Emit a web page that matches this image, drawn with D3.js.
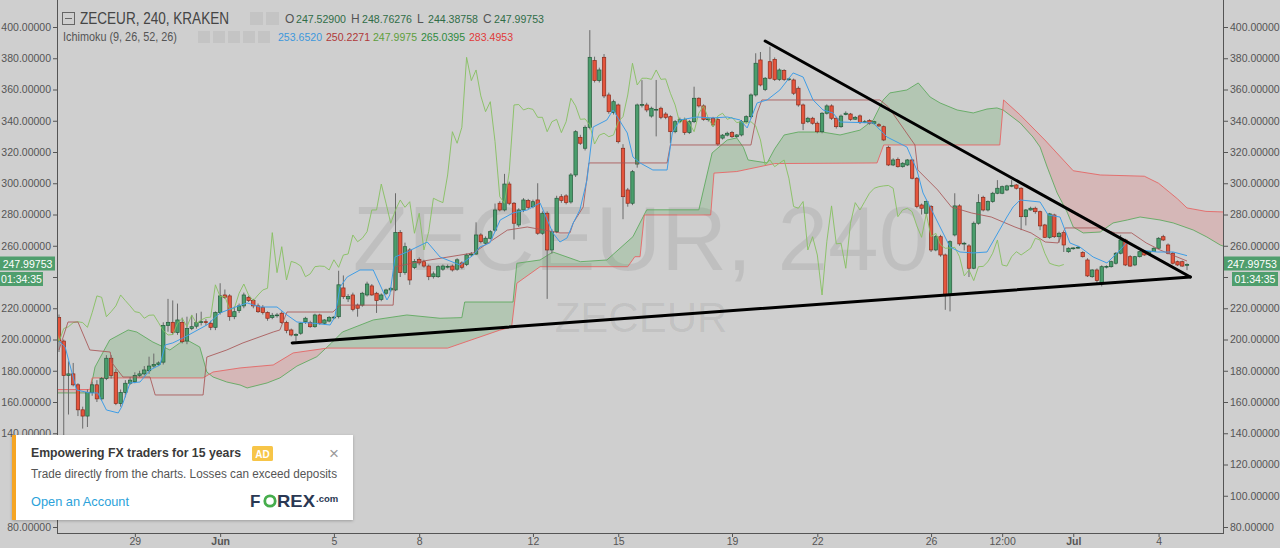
<!DOCTYPE html>
<html><head><meta charset="utf-8">
<script src="https://cdn.jsdelivr.net/npm/d3@7"></script>
<style>
body{margin:0;background:#cfcfcf;overflow:hidden}
svg{display:block}
text{font-family:"Liberation Sans",Arial,sans-serif}
</style></head>
<body><svg id="c" width="1280" height="548"></svg>
<script>
// ---------------- DATA ----------------
const open = [
214,199,177,178,171,155,151,166,171,162,
175,188,179,159,166,172,173,177,178,180,
183,184,185.5,209,211,204.5,211,199,207,208.5,
210.8,211.4,210.4,207.8,217.2,228.5,227.9,214.6,218.5,221.5,
227,224.9,221.5,220.6,217.2,214,215.5,216.8,210.8,206.1,
202.9,204,211.4,210.8,208.2,215.7,210.4,211.8,214,214.6,
233,226,228.5,222,222,228.5,234.3,229.6,225.7,229.6,
231.7,231.7,268.4,242.8,257.3,246,251.3,249.8,247,240.2,
240.2,245,246.6,247,245,249,248,254.1,254.7,266.9,
261.6,264.8,270,287.2,282.9,299.5,287.2,273.3,282.9,288.9,
285,289.3,268,280.8,257.3,269,291.4,291.9,288,305.3,
329.4,322.4,335.8,378.5,365.7,380.6,356.5,345.2,350.1,322.4,
295.7,287.2,312.3,350,350.1,343,347,348,344.3,342.6,
333,339.4,340.9,332.4,339.4,354.4,349.5,340.9,341.6,340.9,
328.9,330.8,332.4,329.8,330.9,339.4,342.6,356.5,378.9,360.1,
377.8,379.3,366.5,372.1,366.5,366.1,360.8,350.1,339.4,341.6,
338.4,333,344.8,349.5,341.6,336.2,344,344.3,341,343.1,
339,340.1,338.4,337.5,336.2,323,311.7,315.3,310.6,311.7,
314.9,303.2,286.1,280.8,285.1,257.3,265.8,254.1,228.5,266.9,
285.5,261.2,259.9,245.6,274.4,291,282.9,288.3,293.6,293.6,
295.7,298.3,298.9,296.8,278.6,282.9,284,281.8,273.3,265.4,
279.7,265.8,268.4,256.2,258.4,258.6,255.6,250.9,240.2,244.5,
235.6,246.6,246.6,248.8,255.2,263.7,253,247.7,253,256.2,
255.2,256.2,258.4,265.8,260.5,255.2,249.8,249.8,247.529];
const high = [
216,200,186,185,172,157,168,173,174,176,
190,190,181,168,174,176,179,180,183,189,
191,186,211,226,225,223,214,214.6,215.7,216.8,
217.8,213,212,218,236,232,229,221,223,230,
228,226,223,222,218,217,217,218,212,207,
204,211,214.5,212,216.5,216.5,213,215,215,244,
241,229,230,223,230.5,237,235.5,230.5,229.5,232.5,
233.5,293.6,270,262,258.5,251.5,252.5,251,248,243.5,
247.5,248,248,248,252,250,255,256,275,268,
266,270,287,288.5,306,301,288,284,290.5,290,
289.5,300,282,282,270.5,292,293,293,306.5,334,
331,337,398,381,374,382.7,358,353.5,351,325,
297,308.5,351,366,351.5,349,366.1,349,345.5,343.5,
340.5,342,342,340.5,361.8,355,350.5,342,342.5,342,
331.5,333,333.5,331.5,340.5,343.5,357.5,383.2,384,368,
387.4,380.5,373.5,373,367.5,367,362,351,342.5,342.5,
339.5,345.5,350.5,350.5,342.5,344,346,345,343,344,
340.5,341,340,338.5,337,324,316,316.5,313.5,315.5,
315.5,304,287,289,286,267,267,255,263.5,293.6,
286.5,262.5,261,275.5,293,292,289,294.5,302,298.5,
299,302,299.5,297.5,283.5,285,285,282.5,274,281,
280.5,269,269,259,259,260,256.5,252,245,245.5,
247.5,247.5,250.5,256,267,264.5,254,253.5,256.5,257,
256.5,259,265.5,267,261.5,256,250.5,250.5,248.76276];
const low = [
192,137,152,170,151,143,144,164,160,161,
174,175,158,157,163,171,172,176,177,178,
182,183,184,205,203,203,197.5,197,206,207,
209,209,206,206,216,226,212,213,217,220,
224,220,217,216,212,213,214,210,204,202,
199,203,210,207.5,207.5,209.5,209.5,211,213,213.5,
226,224,218,214.6,221,227.5,228,217,224.5,228.5,
230.5,231,240,241.5,235,245,247.5,246,238,239,
239.5,244,245.5,243.5,244,245,247,253,254,261.5,
260.5,264,269,282,282,286,264,272,281.5,283.5,
284,267,267,226,255,268,287.5,286.5,287,304,
324.5,321,334.5,364.5,364.5,354.5,344.5,344,325.5,277,
285,286,310,348.5,345.5,342,330,341,341,325.6,
332,339,331,331.5,338.5,348.5,340,339.5,336,324,
328,330,329,329,330,338.5,341.5,355.5,362,359,
366.5,365.5,365.5,365.5,365.5,356.5,349,334,338.5,337.5,
332,332,344,340.5,335,335.5,343.5,340,340.5,338,
338.5,337.5,337.5,336,327,311,311,310,310,311,
302.5,284,280,280,256,256.5,253,219,218,266,
260,257,240,245,273.5,282,282,287.5,293,293,
295,297.5,296,270,273,282.5,280.5,270,265,264.5,
265,262,256,255.5,257.5,258,252.5,240,239.5,235,
234,245.5,246,248,254.5,247,246.5,247,252.5,253.5,
254.5,256,258,263,254.5,248,247,246.5,244.38758];
const close = [
199,177,178,171,155,151,166,171,162,175,
188,177,159,166,172,174,177,178,180.5,183,
184,185,209,211,204.5,212.5,198.6,207,208.2,210.8,
211.4,210.8,207.8,217.2,227.9,227,214.6,217.8,221.5,228.5,
224.9,221.5,217.8,217.2,213.6,215.5,215.7,210.8,205.7,202.9,
203.2,210.4,213.6,208.2,215.7,210.4,212.5,214,214.3,235,
227.4,227.5,219.3,220,229.6,235.5,228.5,224.9,228.5,231.7,
232.8,268.4,242.8,259.4,238.1,250,249,247,240.2,242,
246.6,247,246.8,244.5,251,246.2,254.1,254.7,266.9,262.6,
264.8,269,282.9,282.9,299.5,287.2,274.4,282.9,289.3,284.6,
288.2,268,280.8,257.3,269,290.4,288.9,287.6,305.3,333,
325.6,335.8,380.6,365.7,372.5,355.9,345.8,352.2,326.6,291.4,
287.2,307.4,350.1,350.4,346.9,348,347.3,342.2,342.2,333,
339.4,340.9,332.4,339.4,354.4,349.5,340.9,341.2,337.3,325.1,
330.8,332,329.8,330.9,339.4,342.6,356.5,376.8,362.9,367.2,
367.2,366.5,372.5,366.5,366.8,357.6,350.1,338.4,341.6,338.4,
333,344.8,349.5,341.6,336.2,343,344.8,340.9,342.2,338.8,
339.4,338.4,339.4,336.7,327.7,311.7,314.9,310.6,312.8,314.9,
303.2,285.1,284,288.3,257.3,265.8,254.1,228.5,262.6,285.5,
261.2,261.6,245.6,274.4,287.6,282.9,288.3,293.6,296.8,297.8,
298.3,298.6,296.8,278.6,282.9,284,281.8,272.7,265.4,280.4,
265.8,268,260.5,258.4,258.6,259,253,240.7,244.5,237.7,
246.6,246.8,249.8,255.2,263.7,247.7,247,253,256.2,254.1,
256.2,258.4,264.8,263.7,255.2,248.8,247.7,247,247.99753];

// Ichimoku lines: [bar index, price]
const tenkan = [[0,199],[1.3,195.2],[3.7,167.7],[6.5,165.8],[8.2,165.8],[10,154.9],[12.5,153],[13.2,156.8],[15,172.2],[17.1,172.8],[19.2,180.5],[21.3,183.7],[22.4,196.5],[24,197.8],[26.2,201],[31.2,209.3],[34,217],[36.7,220.2],[39.7,223.4],[42.4,220.8],[46,220.8],[48.1,215.7],[50.2,211.2],[53,210.6],[57.2,209.3],[58.2,214.4],[59.3,233.6],[60.8,240],[63.5,244.5],[66.3,244.5],[69.2,225.3],[69.8,228.5],[70.9,252.8],[73.4,256],[77.7,262.4],[80.4,252.8],[84.6,247.7],[87.4,254],[88.8,259.2],[90.9,261.8],[93.1,276.5],[95.8,281],[98.8,282.9],[101.5,287.4],[104.2,268.2],[105.7,262.4],[107.2,265],[108.5,274.6],[109.9,282.9],[111.4,302],[112.7,336],[115.6,340.5],[116.9,346.9],[119.9,332.2],[121.1,316.8],[122.6,313],[125.3,308.5],[128.3,308.5],[129.4,332.2],[131,340.5],[134.6,342.4],[138,341.8],[141,342.4],[143.7,340.5],[145.2,335.4],[147.3,351.4],[149.4,353.3],[152.1,359.7],[154.9,370.6],[157,368],[159.1,353.3],[161.2,346.9],[163.3,345],[164.8,339.2],[171.8,338.6],[174.7,329.6],[178.9,323.2],[181,308.5],[182.3,293.8],[183.8,284.8],[185.9,272],[188,259.2],[190.1,256],[192.9,255.4],[195.8,256],[200,278.4],[201.3,284.8],[202.8,289.3],[207,288],[208.7,279.7],[211.2,278.4],[213.3,261.8],[215.4,259.2],[218.2,252.8],[221.1,249],[223.3,255.4],[225.4,262.4],[228.1,257.3],[231.7,256],[235.1,256],[238,253.652]];
const kijun = [[0,193.3],[1.9,211.2],[4,211.2],[6.5,193.3],[10.8,192],[11.2,185],[13.5,176],[19.2,176],[20.3,164.5],[30.4,164.5],[31.2,188.8],[35.4,193.3],[38.8,197.8],[45.2,204.8],[46.6,206.1],[48.1,217.6],[57.8,217.6],[59.3,222],[70.5,222],[71,246.6],[76,249.8],[87.4,255.4],[94.6,270],[98.8,272],[105.7,268.2],[107.8,268.2],[108.5,274.6],[110.6,284.8],[111.8,313],[128.3,313],[129,324.5],[146,324.5],[147.3,345],[148.3,353.3],[173.2,353.3],[175,348.8],[180.6,324.5],[181.2,308.5],[185.4,295.7],[188.3,284.8],[192.5,281],[196.7,278.4],[201.7,272],[205.1,268.2],[208.1,262.4],[210.8,261.8],[212.3,271.4],[219.4,271.4],[222.9,268.2],[226.3,268.2],[229.4,261.8],[232.3,257.3],[238,250.2271]];
const senkouA = [[-1,165.8],[6.5,165.8],[7.6,182.4],[10.7,199.7],[14.6,206.1],[16.4,204.8],[19.8,198.4],[23.4,193.3],[25.5,197.8],[27,199.7],[29.7,195.2],[31.2,179.2],[32.5,176],[35.4,172.8],[38.2,170.9],[39.7,169],[43.9,172.2],[46.6,175.4],[50.2,183],[54.4,189],[57.5,197.8],[59.8,204.8],[66.3,212.5],[73.4,215.7],[80.4,213.6],[85,214],[85.6,224],[95.8,224],[96.6,248.8],[101.5,250.9],[104.2,256],[110,249.8],[115.6,250.9],[121.1,265.8],[124,283],[135,283],[137.8,319.4],[141,327.7],[143,329],[144.4,323],[145.4,314.9],[149.4,313],[151,322],[153,330.9],[156,332.8],[161,332.8],[164.8,330.9],[169,334],[171.8,340.5],[173.9,353.3],[175.3,357.8],[178.9,359.7],[181.3,364.2],[183.8,355.2],[185.9,351.4],[189.5,346.9],[192.9,345],[195.8,347.5],[197.9,348.2],[199.2,346.9],[202.8,338.6],[205.5,329.6],[207,323.2],[208.5,310.4],[210.6,293.8],[212.7,281.6],[214,272],[216.1,268.2],[219.7,268.8],[222.4,274.6],[225.4,276.5],[228.1,278.4],[232.3,276.5],[235.1,274.6],[239.3,270.1],[242.2,265.6],[245,260.5],[250,255]];
const senkouB = [[-1,168],[6.5,168],[7,175.4],[30.4,175.4],[32.5,179.2],[38.2,181.8],[45.2,183.7],[49.4,191.4],[56.6,194.5],[82,194.5],[93,206],[95.5,208],[96.6,236],[101.5,246.6],[120,246.6],[121.5,253],[122.6,253],[123.5,279.7],[137.5,279.7],[138.2,306.5],[143,307.5],[151,312.6],[172.6,313],[174,324.5],[198.5,324.5],[199.3,353.3],[202.8,343.7],[208,327.7],[214,308],[219.7,305.3],[229,304.5],[232,300],[236,290],[238,284.2],[242,282],[246,281.6],[250,281]];
const chikouShift = 26;

// drawn trend lines: [[bar, price],[bar, price]]
const trendLines = [[[149,391],[238.7,240]],[[49.2,197.8],[238.7,240]]];

const tickIndex  = [16,34,58,76,100,118,142,160,184,199,214,232];
const tickLabels = ["29","Jun","5","8","12","15","19","22","26","12:00","Jul","4"];
const boldTicks  = ["Jun","Jul"];
const priceTicks = [80,100,120,140,160,180,200,220,240,260,280,300,320,340,360,380,400];
const coveredRight = [240];          // hidden behind the price / countdown tags
const coveredLeft  = [100,120,240];  // hidden behind the tags and the ad panel

const symbolTitle = "ZECEUR, 240, KRAKEN";
const watermark = "ZECEUR, 240";
const watermarkSmall = "ZECEUR";
const ohlcLabels = ["O","H","L","C"];
const indicatorTitle = "Ichimoku (9, 26, 52, 26)";
const legendValues = [253.6520, 250.2271, 247.9975, 265.0395, 283.4953];
const countdown = "01:34:35";
const adTitle = "Empowering FX traders for 15 years";
const adText = "Trade directly from the charts. Losses can exceed deposits";
const adLink = "Open an Account";

// ---------------- DRAW ----------------
const svg = d3.select("#c");
const PL=57, PR=1224, PB=533;
const x = d3.scaleLinear().domain([0, 238]).range([59, 1187]);
const y = d3.scaleLinear().domain([80, 400]).range([527, 27]);
const N = close.length;

svg.append("rect").attr("width",1280).attr("height",548).attr("fill","#cfcfcf");
const defs = svg.append("defs");
defs.append("clipPath").attr("id","plotclip").append("rect")
  .attr("x",PL+0.5).attr("y",0).attr("width",PR-PL-1).attr("height",PB);

const toPts = arr => arr.map(d=>[x(d[0]), y(d[1])]);
const aPts = toPts(senkouA), bPts = toPts(senkouB);
const poly = pts => d3.line()(pts) + "Z";
const xmin = x(-1), xmax = x(250);
defs.append("clipPath").attr("id","aboveB").append("path")
  .attr("d", poly([...bPts, [xmax,-50],[xmin,-50]]));
defs.append("clipPath").attr("id","belowB").append("path")
  .attr("d", poly([...bPts, [xmax,700],[xmin,700]]));
const betweenPath = poly([...aPts, ...bPts.slice().reverse()]);

const plot = svg.append("g").attr("clip-path","url(#plotclip)");

// watermark
plot.append("text").attr("x",641).attr("y",270).attr("text-anchor","middle")
  .attr("font-size",91).attr("fill","#000").attr("fill-opacity",0.075).text(watermark);
plot.append("text").attr("x",641).attr("y",332).attr("text-anchor","middle")
  .attr("font-size",42).attr("fill","#000").attr("fill-opacity",0.075).text(watermarkSmall);

// cloud
const cloud = plot.append("g");
cloud.append("g").attr("clip-path","url(#aboveB)").append("path")
  .attr("d",betweenPath).attr("fill","rgba(70,165,70,0.2)");
cloud.append("g").attr("clip-path","url(#belowB)").append("path")
  .attr("d",betweenPath).attr("fill","rgba(240,90,90,0.2)");

const line = d3.line().x(d=>x(d[0])).y(d=>y(d[1]));
plot.append("path").attr("d",line(senkouA)).attr("fill","none").attr("stroke","#5aa85a").attr("stroke-width",1).attr("stroke-opacity",0.85);
plot.append("path").attr("d",line(senkouB)).attr("fill","none").attr("stroke","#e86060").attr("stroke-width",1).attr("stroke-opacity",0.85);

// candles
const cg = plot.append("g");
const idx = d3.range(N);
cg.selectAll("line.w").data(idx).join("line")
  .attr("x1",i=>x(i)).attr("x2",i=>x(i))
  .attr("y1",i=>y(high[i])).attr("y2",i=>y(low[i]))
  .attr("stroke","#6a6a6a").attr("stroke-width",1);
cg.selectAll("rect.b").data(idx).join("rect")
  .attr("x",i=>x(i)-1.7).attr("width",3.4)
  .attr("y",i=>y(Math.max(open[i],close[i])))
  .attr("height",i=>Math.max(0.8, Math.abs(y(open[i])-y(close[i]))))
  .attr("fill",i=>close[i]>=open[i]?"#4a9d6c":"#e5553d")
  .attr("stroke",i=>close[i]>=open[i]?"#245c3b":"#8a2b1c")
  .attr("stroke-width",0.7);

// lagging span, kijun, tenkan
const chik = d3.line().x((d,i)=>x(i-chikouShift)).y(d=>y(d));
plot.append("path").attr("d",chik(close)).attr("fill","none").attr("stroke","#86c060").attr("stroke-width",1).attr("stroke-opacity",0.9);
plot.append("path").attr("d",line(kijun)).attr("fill","none").attr("stroke","#a85656").attr("stroke-width",1).attr("stroke-opacity",0.85);
plot.append("path").attr("d",line(tenkan)).attr("fill","none").attr("stroke","#3f9de6").attr("stroke-width",1);

// trend lines
trendLines.forEach(t=>{
  plot.append("path").attr("d",line(t)).attr("stroke","#000").attr("stroke-width",3).attr("fill","none").attr("stroke-linecap","round");
});

// axes
const axCol = "#555";
const fmt = d3.format(".5f");
const la = svg.append("g").attr("transform",`translate(${PL},0)`)
  .call(d3.axisLeft(y).tickValues(priceTicks).tickFormat(fmt).tickSize(4).tickPadding(2));
const ra = svg.append("g").attr("transform",`translate(${PR},0)`)
  .call(d3.axisRight(y).tickValues(priceTicks).tickFormat(fmt).tickSize(4).tickPadding(2));
const ba = svg.append("g").attr("transform",`translate(0,${PB})`)
  .call(d3.axisBottom(x).tickValues(tickIndex).tickFormat((d,i)=>tickLabels[i]).tickSize(4).tickPadding(1));
[la,ra,ba].forEach(a=>{
  a.select(".domain").remove();
  a.selectAll("line").attr("stroke",axCol);
  a.selectAll("text").attr("fill",axCol).attr("font-size",10.5).attr("font-family","Liberation Sans, Arial, sans-serif");
});
la.selectAll(".tick text").filter(d=>coveredLeft.includes(d)).remove();
ra.selectAll(".tick text").filter(d=>coveredRight.includes(d)).remove();
ba.selectAll("text").attr("font-weight",d=>boldTicks.includes(tickLabels[tickIndex.indexOf(d)])?"bold":"normal");
svg.append("line").attr("x1",PL+0.5).attr("x2",PL+0.5).attr("y1",0).attr("y2",PB+0.5).attr("stroke",axCol);
svg.append("line").attr("x1",PR-0.5).attr("x2",PR-0.5).attr("y1",0).attr("y2",PB+0.5).attr("stroke",axCol);
svg.append("line").attr("x1",PL).attr("x2",PR).attr("y1",PB+0.5).attr("y2",PB+0.5).attr("stroke",axCol);

// price tags
const last = close[N-1];
const tagCol = "#4f9e6d";
const yl = y(last);
function tag(x0,w,yc,txt){
  svg.append("rect").attr("x",x0).attr("y",yc-7).attr("width",w).attr("height",14).attr("fill",tagCol);
  svg.append("text").attr("x",x0+w/2).attr("y",yc+4).attr("text-anchor","middle").attr("fill","#fff").attr("font-size",10.5).text(txt);
}
tag(PR,56,yl-1,fmt(last));
tag(PR+8,46,yl+14.5,countdown);
tag(0,55,yl-1,fmt(last));
tag(0,43,yl+14.5,countdown);

// header
const hd = svg.append("g");
hd.append("rect").attr("x",62.5).attr("y",12.5).attr("width",12).attr("height",12).attr("fill","none").attr("stroke","#666");
hd.append("line").attr("x1",65).attr("x2",72).attr("y1",18.5).attr("y2",18.5).attr("stroke","#666");
hd.append("text").attr("x",80).attr("y",24).attr("font-size",16).attr("fill","#454545")
  .attr("textLength",149).attr("lengthAdjust","spacingAndGlyphs").text(symbolTitle);
[250,266].forEach(px=>hd.append("rect").attr("x",px).attr("y",12).attr("width",13).attr("height",13).attr("fill","#c4c4c4"));
const ohlc = [open[N-1],high[N-1],low[N-1],close[N-1]];
ohlcLabels.forEach((lab,k)=>{
  const x0 = 285 + k*66;
  hd.append("text").attr("x",x0).attr("y",23).attr("font-size",12).attr("fill","#555").text(lab);
  hd.append("text").attr("x",x0+11).attr("y",23).attr("font-size",11).attr("fill","#2f6d47")
    .attr("textLength",50).attr("lengthAdjust","spacingAndGlyphs").text(fmt(ohlc[k]));
});
hd.append("text").attr("x",63).attr("y",41).attr("font-size",12).attr("fill","#555")
  .attr("textLength",114).attr("lengthAdjust","spacingAndGlyphs").text(indicatorTitle);
[198,213,228,243,258].forEach(px=>hd.append("rect").attr("x",px).attr("y",31).attr("width",12).attr("height",12).attr("fill","#c4c4c4"));
const legCols = ["#3d98dc","#b03838","#5e9e3c","#2e8a40","#e03a3a"];
const legX = [278,326,373,421,469];
legendValues.forEach((v,k)=>{
  hd.append("text").attr("x",legX[k]).attr("y",41).attr("font-size",10.5).attr("fill",legCols[k])
    .attr("textLength",44).attr("lengthAdjust","spacingAndGlyphs").text(d3.format(".4f")(v));
});

// ad box
const ad = svg.append("g");
const f = defs.append("filter").attr("id","sh").attr("x","-10%").attr("y","-10%").attr("width","120%").attr("height","130%");
f.append("feDropShadow").attr("dx",0).attr("dy",1).attr("stdDeviation",1.5).attr("flood-color","#000").attr("flood-opacity",0.25);
ad.append("rect").attr("x",12).attr("y",435).attr("width",341).attr("height",85).attr("fill","#fff").attr("filter","url(#sh)");
ad.append("rect").attr("x",12).attr("y",435).attr("width",4).attr("height",85).attr("fill","#f5a524");
ad.append("text").attr("x",31).attr("y",457).attr("font-size",13).attr("font-weight","bold").attr("fill","#3a3a3a")
  .attr("font-family","Lato, 'Liberation Sans', sans-serif")
  .attr("textLength",210).attr("lengthAdjust","spacingAndGlyphs").text(adTitle);
ad.append("rect").attr("x",252).attr("y",446).attr("width",21).attr("height",15).attr("rx",1.5).attr("fill","#f7c548");
ad.append("text").attr("x",262.5).attr("y",457.5).attr("text-anchor","middle").attr("font-size",10).attr("font-weight","bold").attr("fill","#fff").text("AD");
ad.append("text").attr("x",334).attr("y",459).attr("text-anchor","middle").attr("font-size",17).attr("fill","#9a9a9a").text("×");
ad.append("text").attr("x",31).attr("y",478).attr("font-size",12).attr("fill","#555")
  .attr("font-family","Lato, 'Liberation Sans', sans-serif")
  .attr("textLength",306).attr("lengthAdjust","spacingAndGlyphs").text(adText);
ad.append("text").attr("x",31).attr("y",506).attr("font-size",13).attr("fill","#2ba2da")
  .attr("font-family","Lato, 'Liberation Sans', sans-serif")
  .attr("textLength",98).attr("lengthAdjust","spacingAndGlyphs").text(adLink);
ad.append("text").attr("x",250).attr("y",507).attr("font-size",17).attr("font-weight","bold").attr("fill","#2a3853").text("F");
ad.append("circle").attr("cx",270).attr("cy",501).attr("r",5.2).attr("fill","none").attr("stroke","#46ad4c").attr("stroke-width",2.8);
ad.append("text").attr("x",277).attr("y",507).attr("font-size",17).attr("font-weight","bold").attr("fill","#2a3853")
  .attr("textLength",38).attr("lengthAdjust","spacingAndGlyphs").text("REX");
ad.append("text").attr("x",316).attr("y",502).attr("font-size",9.5).attr("font-weight","bold").attr("fill","#2a3853").text(".com");
</script>
</body></html>
